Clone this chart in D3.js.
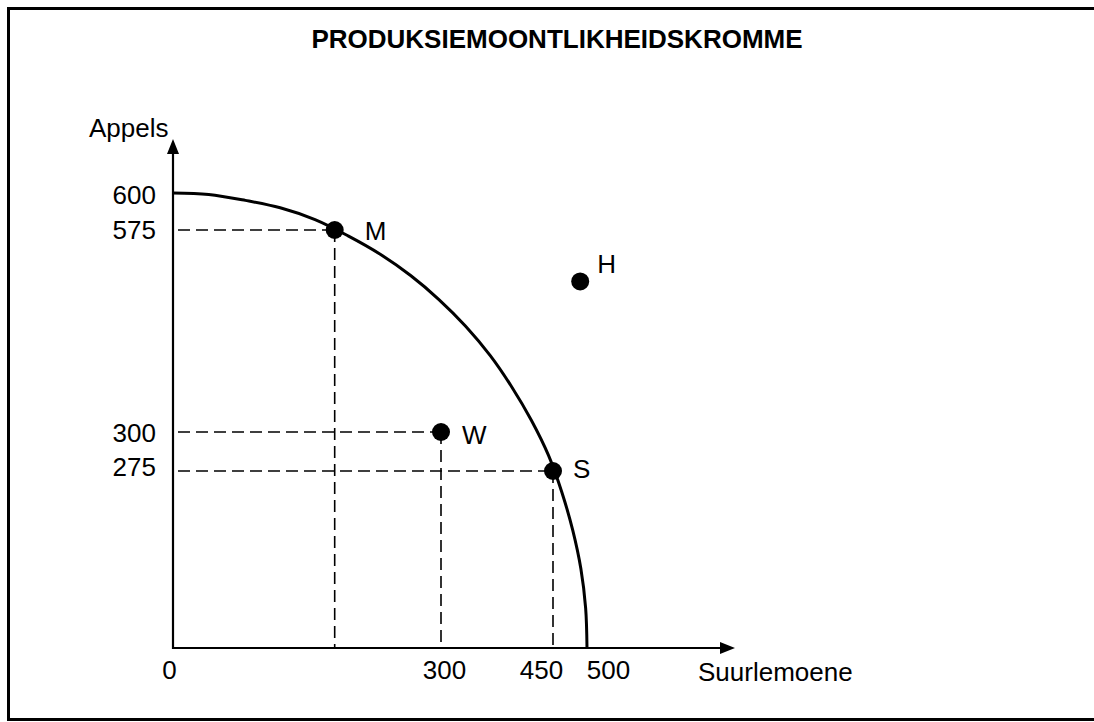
<!DOCTYPE html>
<html>
<head>
<meta charset="utf-8">
<script src="https://cdnjs.cloudflare.com/ajax/libs/d3/7.8.5/d3.min.js"></script>
<style>
  body { margin: 0; background: #fff; }
  svg { display: block; font-family: "Liberation Sans", Arial, sans-serif; }
  .tick text { font-size: 26px; fill: #000; }
</style>
</head>
<body>
<script>
// production possibility curve
var curveX = [0, 40, 81, 120, 159, 196, 232, 266, 298, 333, 366, 395, 421, 444, 463, 479, 491, 498, 500];
var curveY = [600, 599, 595, 590, 582, 567, 542, 513, 480, 444, 404, 361, 316, 285, 242, 183, 123, 62, 0];

// named points
var pointNames = ["M", "W", "S", "H"];
var pointX = [181, 300, 450, 490];
var pointY = [575, 300, 275, 505];
var guideNames = ["M", "W", "S"];   // points with dashed lines to the axes

// tick labels
var xTicks = [0, 300, 450, 500];
var yTicks = [600, 575, 300, 275];

var W = 1094, H = 722;

// the drawing is not to scale, so piecewise scales through the labelled values
var x = d3.scaleLinear().domain([0, 300, 450, 500]).range([173, 441, 553, 587]);
var y = d3.scaleLinear().domain([0, 275, 300, 575, 600]).range([648, 471, 432, 230, 193]);

var svg = d3.select("body").append("svg")
    .attr("width", W)
    .attr("height", H);

// frame
svg.append("rect")
    .attr("x", 8.5).attr("y", 8.5)
    .attr("width", 1100).attr("height", 711)
    .attr("fill", "none")
    .attr("stroke", "#000")
    .attr("stroke-width", 3);

// title
svg.append("text")
    .text("PRODUKSIEMOONTLIKHEIDSKROMME")
    .attr("x", 557)
    .attr("y", 48)
    .attr("text-anchor", "middle")
    .style("font-weight", "bold")
    .style("font-size", "26px");

var pts = pointNames.map(function(n, i) { return {name: n, x: pointX[i], y: pointY[i]}; });
var guides = pts.filter(function(d) { return guideNames.indexOf(d.name) >= 0; });

// dashed guide lines
svg.selectAll(".hguide")
  .data(guides)
  .enter().append("line")
    .attr("class", "hguide")
    .attr("x1", x(0) + 5)
    .attr("x2", function(d) { return x(d.x); })
    .attr("y1", function(d) { return y(d.y); })
    .attr("y2", function(d) { return y(d.y); })
    .attr("stroke", "#000")
    .attr("stroke-width", 1.6)
    .attr("stroke-dasharray", "12,6");

svg.selectAll(".vguide")
  .data(guides)
  .enter().append("line")
    .attr("class", "vguide")
    .attr("x1", function(d) { return x(d.x); })
    .attr("x2", function(d) { return x(d.x); })
    .attr("y1", function(d) { return y(d.y); })
    .attr("y2", y(0))
    .attr("stroke", "#000")
    .attr("stroke-width", 1.6)
    .attr("stroke-dasharray", "12,6");

// axes (labels only, no tick marks)
var gx = svg.append("g")
    .attr("transform", "translate(0," + y(0) + ")")
    .call(d3.axisBottom(x).tickValues(xTicks).tickSize(0).tickPadding(13).tickFormat(d3.format("d")));
gx.select(".domain").remove();
var xNudge = {0: -4, 300: 3, 450: -12, 500: 21};
gx.selectAll(".tick text").attr("dx", function(d) { return xNudge[d]; });

var gy = svg.append("g")
    .attr("transform", "translate(" + x(0) + ",0)")
    .call(d3.axisLeft(y).tickValues(yTicks).tickSize(0).tickPadding(17).tickFormat(d3.format("d")));
gy.select(".domain").remove();
var yNudge = {600: 2, 575: 0, 300: 1, 275: -4};
gy.selectAll(".tick text").attr("y", function(d) { return yNudge[d]; });

// axis lines with arrow heads
svg.append("line")
    .attr("x1", x(0)).attr("x2", x(0))
    .attr("y1", y(0) + 1).attr("y2", 150)
    .attr("stroke", "#000").attr("stroke-width", 2.2);
svg.append("path")
    .attr("d", "M" + x(0) + ",139L" + (x(0) - 6) + ",154L" + (x(0) + 6) + ",154Z")
    .attr("fill", "#000");

svg.append("line")
    .attr("x1", x(0) - 1).attr("x2", 722)
    .attr("y1", y(0)).attr("y2", y(0))
    .attr("stroke", "#000").attr("stroke-width", 2.2);
svg.append("path")
    .attr("d", "M735," + y(0) + "L720," + (y(0) - 6) + "L720," + (y(0) + 6) + "Z")
    .attr("fill", "#000");

// axis titles
svg.append("text")
    .text("Appels")
    .attr("x", 89)
    .attr("y", 137)
    .style("font-size", "26px");
svg.append("text")
    .text("Suurlemoene")
    .attr("x", 698)
    .attr("y", 681)
    .style("font-size", "26px");

// the curve
var line = d3.line()
    .x(function(d) { return x(d[0]); })
    .y(function(d) { return y(d[1]); })
    .curve(d3.curveCatmullRom.alpha(0.5));

svg.append("path")
    .datum(curveX.map(function(v, i) { return [v, curveY[i]]; }))
    .attr("d", line)
    .attr("fill", "none")
    .attr("stroke", "#000")
    .attr("stroke-width", 3);

// points and their letters
svg.selectAll(".pt")
  .data(pts)
  .enter().append("circle")
    .attr("class", "pt")
    .attr("cx", function(d) { return x(d.x); })
    .attr("cy", function(d) { return y(d.y); })
    .attr("r", 9)
    .attr("fill", "#000");

var labelNudge = {M: [30, 10], W: [21, 12], S: [20, 7], H: [17, -8]};
svg.selectAll(".ptlabel")
  .data(pts)
  .enter().append("text")
    .attr("class", "ptlabel")
    .text(function(d) { return d.name; })
    .attr("x", function(d) { return x(d.x) + labelNudge[d.name][0]; })
    .attr("y", function(d) { return y(d.y) + labelNudge[d.name][1]; })
    .style("font-size", "26px");
</script>
</body>
</html>
